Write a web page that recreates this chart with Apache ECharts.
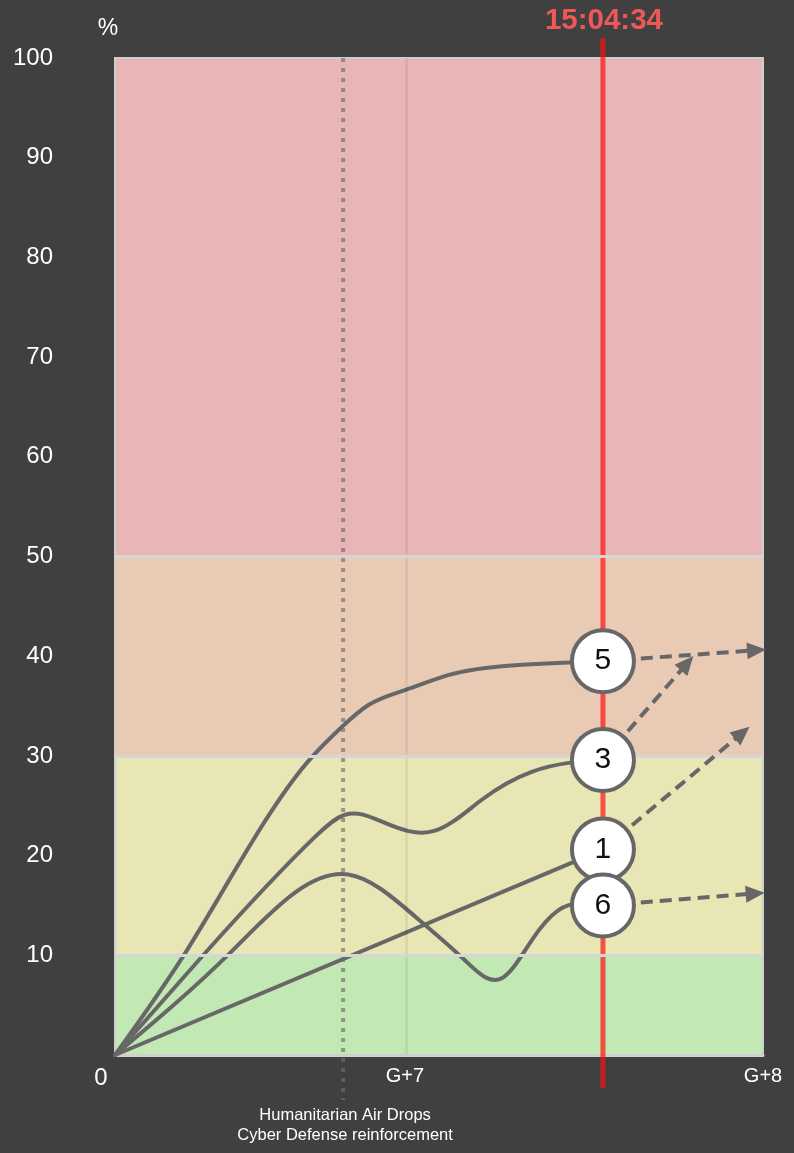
<!DOCTYPE html>
<html><head><meta charset="utf-8">
<script src="https://cdn.jsdelivr.net/npm/echarts@6/dist/echarts.min.js"></script>
<style>html,body{margin:0;padding:0;background:#404040;}#c{width:794px;height:1153px;}</style>
</head><body><div id="c"></div>
<script>
// ---- data ----
const yMin = 0, yMax = 100, yStep = 10;
const xTickValues = [0, 0.4475, 1];
const xTickLabels = ['0', 'G+7', 'G+8'];
const bandLimits = [0, 10, 30, 50, 100];
const seriesNames = ['1', '3', '5', '6'];
const line1 = [[0, 0], [0.753, 20.6]];
const line3 = [[0, 0], [0.136, 10.0], [0.309, 21.9], [0.355, 24.1], [0.412, 23.4], [0.494, 22.5], [0.566, 25.6], [0.643, 28.4], [0.70, 29.3], [0.753, 29.6]];
const line5 = [[0, 0], [0.11, 10.4], [0.296, 29.3], [0.350, 32.9], [0.391, 35.1], [0.4475, 36.6], [0.514, 38.1], [0.617, 39.1], [0.753, 39.5]];
const line6 = [[0, 0], [0.18, 10.4], [0.36, 18.1], [0.463, 13.9], [0.540, 9.5], [0.597, 7.7], [0.643, 11.5], [0.684, 14.5], [0.753, 15.0]];
const arrowEnds = [[0.968, 32.3], [0.883, 39.3], [0.99, 40.6], [0.988, 16.2]];
const nowX = 0.753;
const nowLabel = '15:04:34';
const eventX = 0.352;
const eventLabels = ['Humanitarian Air Drops', 'Cyber Defense reinforcement'];

// ---- styles ----
const bandColors = ['#c2e8b4', '#e8e6b4', '#e9cbb5', '#e8b6b6'];
const lineColor = '#676767';
const FONT = 'Liberation Sans, Arial, sans-serif';

const lines = [line1, line3, line5, line6];
const chart = echarts.init(document.getElementById('c'));

// natural cubic spline through pixel points, emitted as bezier segments
function splinePath(P) {
  const n = P.length;
  let d = 'M' + P[0][0] + ',' + P[0][1];
  if (n === 2) return d + 'L' + P[1][0] + ',' + P[1][1];
  const h = [], s = [];
  for (let i = 0; i < n - 1; i++) { h[i] = P[i + 1][0] - P[i][0]; s[i] = (P[i + 1][1] - P[i][1]) / h[i]; }
  const M = new Array(n).fill(0);
  const m = n - 2;
  const a = [], b = [], c = [], r = [];
  for (let i = 1; i <= m; i++) {
    a.push(h[i - 1]); b.push(2 * (h[i - 1] + h[i])); c.push(h[i]); r.push(6 * (s[i] - s[i - 1]));
  }
  for (let i = 1; i < m; i++) {
    const w = a[i] / b[i - 1];
    b[i] -= w * c[i - 1]; r[i] -= w * r[i - 1];
  }
  const x = new Array(m);
  x[m - 1] = r[m - 1] / b[m - 1];
  for (let i = m - 2; i >= 0; i--) x[i] = (r[i] - c[i] * x[i + 1]) / b[i];
  for (let i = 1; i <= m; i++) M[i] = x[i - 1];
  const t = new Array(n);
  for (let i = 0; i < n - 1; i++) t[i] = s[i] - h[i] * (2 * M[i] + M[i + 1]) / 6;
  t[n - 1] = s[n - 2] + h[n - 2] * (M[n - 2] + 2 * M[n - 1]) / 6;
  for (let i = 0; i < n - 1; i++) {
    const dx = h[i] / 3;
    d += 'C' + (P[i][0] + dx) + ',' + (P[i][1] + dx * t[i]) + ',' + (P[i + 1][0] - dx) + ',' + (P[i + 1][1] - dx * t[i + 1]) + ',' + P[i + 1][0] + ',' + P[i + 1][1];
  }
  return d;
}

const bandAreas = [];
for (let i = 0; i < bandLimits.length - 1; i++) {
  bandAreas.push([{ yAxis: bandLimits[i], itemStyle: { color: bandColors[i] } }, { yAxis: bandLimits[i + 1] }]);
}

const series = [{
  type: 'line', data: [], z: 1, silent: true,
  markArea: { silent: true, data: bandAreas, itemStyle: { opacity: 1 } },
  markLine: {
    silent: true, symbol: 'none', label: { show: false },
    data: [
      { xAxis: xTickValues[1], lineStyle: { color: 'rgba(0,0,0,0.06)', width: 3, type: 'solid' } },
      { yAxis: bandLimits[1], lineStyle: { color: '#d6d6d6', width: 3, type: 'solid' } },
      { yAxis: bandLimits[2], lineStyle: { color: '#d6d6d6', width: 3, type: 'solid' } },
      { yAxis: bandLimits[3], lineStyle: { color: '#d6d6d6', width: 3, type: 'solid' } }
    ]
  }
}, {
  type: 'line', data: [], z: 3, silent: true,
  markLine: {
    silent: true, symbol: ['none', 'triangle'], symbolSize: [17, 19],
    label: { show: false },
    lineStyle: { color: lineColor, width: 4, type: [12, 7] },
    data: lines.map((d, i) => [{ coord: d[d.length - 1] }, { coord: arrowEnds[i] }])
  }
}];

lines.forEach((d, i) => {
  series.push({
    type: 'custom', name: seriesNames[i], data: d, z: 3, silent: true, clip: false,
    encode: { x: 0, y: 1 },
    renderItem: (params, api) => {
      if (params.dataIndex !== 0) return null;
      const pts = d.map(p => api.coord(p));
      return {
        type: 'path', shape: { pathData: splinePath(pts) },
        style: { fill: 'none', stroke: lineColor, lineWidth: 4, lineJoin: 'round', lineCap: 'round' }
      };
    }
  });
});

series.push({
  type: 'scatter', z: 6, silent: true,
  data: lines.map((d, i) => ({ value: d[d.length - 1], name: seriesNames[i] })),
  symbolSize: 62,
  itemStyle: { color: '#ffffff', borderColor: lineColor, borderWidth: 4, opacity: 1 },
  label: { show: true, position: 'inside', formatter: p => p.name, color: '#111', fontSize: 30, fontFamily: FONT }
});

chart.setOption({
  animation: false,
  backgroundColor: '#404040',
  grid: { left: 115, top: 58, right: 31, bottom: 98, containLabel: false },
  xAxis: {
    type: 'value', min: 0, max: 1,
    axisLine: { show: true, lineStyle: { color: '#d4d4d4', width: 3 } },
    axisTick: { show: false },
    splitLine: { show: false },
    axisLabel: {
      customValues: xTickValues, color: '#ffffff', fontSize: 20, fontFamily: FONT, margin: 11,
      formatter: v => {
        const idx = xTickValues.findIndex(t => Math.abs(t - v) < 1e-6);
        const s = idx >= 0 ? xTickLabels[idx] : '';
        return v === 0 ? '{z|' + s + '}' : s;
      },
      rich: { z: { fontSize: 24, color: '#ffffff', fontFamily: FONT, padding: [0, 28, 8, 0] } }
    }
  },
  yAxis: {
    type: 'value', min: yMin, max: yMax, interval: yStep,
    name: '%', nameLocation: 'end', nameGap: 18,
    nameTextStyle: { color: '#ffffff', fontSize: 23, fontFamily: FONT, padding: [0, 14, 0, 0] },
    axisLine: { show: false }, axisTick: { show: false },
    splitLine: { show: true, lineStyle: { color: 'rgba(0,0,0,0.05)', width: 1.5 } },
    axisLabel: { color: '#ffffff', fontSize: 24, fontFamily: FONT, margin: 62, padding: [6, 0, 0, 0], formatter: v => v === 0 ? '' : String(v) }
  },
  series: series
});

function px(x, y) { return chart.convertToPixel({ gridIndex: 0 }, [x, y]); }
const tl = px(0, yMax), br = px(1, yMin);
const nowTop = px(nowX, yMax), nowBot = px(nowX, yMin);
const evTop = px(eventX, yMax), evBot = px(eventX, yMin);

chart.setOption({
  graphic: [
    { type: 'rect', z: 2, silent: true,
      shape: { x: tl[0], y: tl[1], width: br[0] - tl[0], height: br[1] - tl[1] },
      style: { fill: 'none', stroke: '#cfcfcf', lineWidth: 2 } },
    { type: 'line', z: 2, silent: true,
      shape: { x1: evTop[0], y1: evTop[1], x2: evBot[0], y2: evBot[1] + 45 },
      style: { stroke: 'rgba(112,108,104,0.65)', lineWidth: 4, lineDash: [4, 6] } },
    { type: 'text', z: 5, silent: true, x: evBot[0] + 2, y: evBot[1] + 70,
      style: { text: eventLabels.join('\n'), fill: '#ffffff', font: '16.5px ' + FONT, align: 'center', verticalAlign: 'middle', lineHeight: 20 } },
    { type: 'line', z: 4, silent: true,
      shape: { x1: nowTop[0], y1: nowTop[1] - 20, x2: nowBot[0], y2: nowBot[1] + 33 },
      style: { stroke: 'rgba(255,15,15,0.7)', lineWidth: 5 } },
    { type: 'text', z: 5, silent: true, x: nowTop[0] + 1, y: 21,
      style: { text: nowLabel, fill: '#f05858', font: 'bold 29.5px ' + FONT, align: 'center', verticalAlign: 'middle' } }
  ]
});
</script>
</body></html>
